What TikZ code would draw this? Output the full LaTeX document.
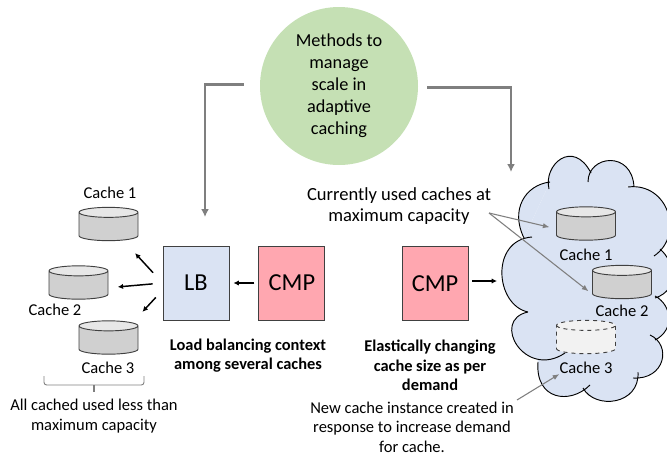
\documentclass[tikz,border=0pt]{standalone}
\usepackage{fontspec}
\setmainfont{Carlito}
\usetikzlibrary{positioning, shapes.geometric, arrows.meta}
\definecolor{leafgreen}{HTML}{C5E0B4}
\definecolor{paleblue}{HTML}{DAE3F3}
\definecolor{rosered}{HTML}{FFA7B0}
\definecolor{elbowgrey}{HTML}{7F7F7F}
\definecolor{edgedark}{HTML}{404040}
\definecolor{dbgrey}{HTML}{D0D0D0}
\definecolor{dbtop}{HTML}{E7E7E7}
\definecolor{dbnew}{HTML}{F2F2F2}
\tikzset{
    captext/.style={inner sep=0pt,align=center,font=\fontsize{12.4}{14.6}\selectfont},
    headtext/.style={captext,font=\fontsize{13.9}{16}\selectfont},
    boldtext/.style={captext,font=\fontsize{12.3}{14.6}\selectfont\bfseries},
    box/.style={draw=edgedark,line width=0.7pt,inner sep=0pt,minimum width=49.5pt,minimum height=55.5pt,font=\fontsize{18.3}{22}\selectfont},
    cachedb/.style 2 args={cylinder,shape border rotate=90,shape aspect=0.17,anchor=shape center,draw=edgedark,line width=0.7pt,
        inner xsep=22.1pt,inner ysep=0pt,minimum width=44.25pt,minimum height=25pt,cylinder uses custom fill,
        cylinder body fill=#1,cylinder end fill=#2},
    elbow/.style={draw=elbowgrey,line width=1.7pt,-{Latex[length=6pt,width=6pt]}},
    push/.style={draw=black,line width=1.1pt,-{Latex[length=4pt,width=4pt]}},
    callout/.style={draw=elbowgrey,line width=0.8pt,-{Latex[length=5pt,width=4pt]}}
}
\begin{document}
\begin{tikzpicture}[x=0.75pt,y=-0.75pt,node distance=21.75pt]
    \useasboundingbox (0,0) rectangle (667,454);

    % cloud body, then its lobes
    \fill[paleblue] (550,182) -- (591,173) -- (628,187) -- (660,249) -- (660,298) -- (655,340) -- (633,378)
        -- (583,388) -- (538,362) -- (528,312) -- (524,238) -- cycle;
    \path[fill=paleblue,draw=black,line width=0.7pt]
        (549,189) .. controls (543,165) and (573,138) .. (591,173)
        (588,182) .. controls (588,155) and (632,150) .. (634,187)
        (628,187) .. controls (668,182) and (685,235) .. (654,256)
        (660,249) .. controls (675,262) and (680,290) .. (655,298)
        (655,296) .. controls (672,305) and (675,330) .. (655,340)
        (650,335) .. controls (672,345) and (665,380) .. (633,378)
        (638,372) .. controls (640,405) and (595,410) .. (583,388)
        (590,385) .. controls (570,405) and (535,400) .. (538,362)
        (565,353) .. controls (525,380) and (490,320) .. (528,312)
        (528,312) .. controls (495,305) and (490,240) .. (532,237)
        (524,238) .. controls (510,210) and (525,185) .. (550,182);

    \node[circle,fill=leafgreen,minimum size=118.5pt,inner sep=0pt,align=center,
        font=\fontsize{13.7}{16.5}\selectfont] (methods) at (339,86) {Methods to\\manage\\scale in\\adaptive\\caching};

    % load balancing side
    \node[box,fill=paleblue] (lb) at (196,283) {LB};
    \node[box,fill=rosered] (cmpa) [right=of lb] {CMP};
    \node[cachedb={dbgrey}{dbtop}] (ca) at (108.5,224) {};
    \node[cachedb={dbgrey}{dbtop}] (cb) at (78.5,282.5) {};
    \node[cachedb={dbgrey}{dbtop}] (cc) at (108.5,337.5) {};
    \node[captext] (laba) at (110,193) {Cache 1};
    \node[captext] (labb) at (55,310) {Cache 2};
    \node[captext] (labc) at (108,368) {Cache 3};
    \node[boldtext] (lbtext) at (248,355.5) {Load balancing context\\among several caches};
    \node[captext] (alltext) at (94,416) {All cached used less than\\maximum capacity};

    % elastic side
    \node[box,fill=rosered] (cmpb) at (435,283.5) {CMP};
    \node[cachedb={dbgrey}{dbtop}] (cd) at (586,223.5) {};
    \node[cachedb={dbgrey}{dbtop}] (ce) at (622,282) {};
    \node[cachedb={dbnew}{dbnew},dashed] (cf) at (586,337) {};
    \node[captext] (labd) at (586,255) {Cache 1};
    \node[captext] (labe) at (622,311) {Cache 2};
    \node[captext] (labf) at (586,368) {Cache 3};
    \node[headtext] (usedtext) at (399,206) {Currently used caches at\\maximum capacity};
    \node[boldtext] (elastext) at (430,365.5) {Elastically changing\\cache size as per\\demand};
    \node[captext] (newtext) at (412,427) {New cache instance created in\\response to increase demand\\for cache.};

    \coordinate (lbin) at (205,217);
    \coordinate (cloudin) at (511,172);
    \coordinate (cloudedge) at (500,281);
    \coordinate (cmpout) at (468,281);
    \coordinate (fork) at (489,213);
    \coordinate (newtail) at (517,400);
    \coordinate (bracel) at (44,376);
    \coordinate (bracer) at (144,376);
    \coordinate (bracemid) at (94,385);
    \coordinate (bracetip) at (94,392);

    \draw[elbow,shorten <=12pt] (methods.179) -| (lbin);
    \draw[elbow,shorten <=6.75pt] (methods.-1) -| (cloudin);

    \draw[push,shorten <=3pt,shorten >=3pt] (cmpa) -- (lb);
    \draw[push,shorten <=7.5pt,shorten >=7pt] (lb.west) -- (cb.east);
    \draw[push,shorten <=10.5pt,shorten >=13pt] (lb.west) -- (ca.-37);
    \draw[push,shorten <=7.5pt,shorten >=11pt] (lb.192) -- (cc.40);
    \draw[push,shorten <=3pt,shorten >=2.25pt] (cmpout) -- (cloudedge);

    \draw[callout,shorten >=5pt] (fork) -- (cd.west);
    \draw[callout,shorten >=3.5pt] (fork) -- (ce.193);
    \draw[callout] (newtail) -- (labf.south west);

    \draw[elbowgrey,line width=0.7pt,rounded corners=2pt] (bracel) -- (bracel |- bracemid) -- (bracer |- bracemid) -- (bracer);
    \draw[elbowgrey,line width=0.9pt] (bracemid) -- (bracetip);
\end{tikzpicture}
\end{document}
